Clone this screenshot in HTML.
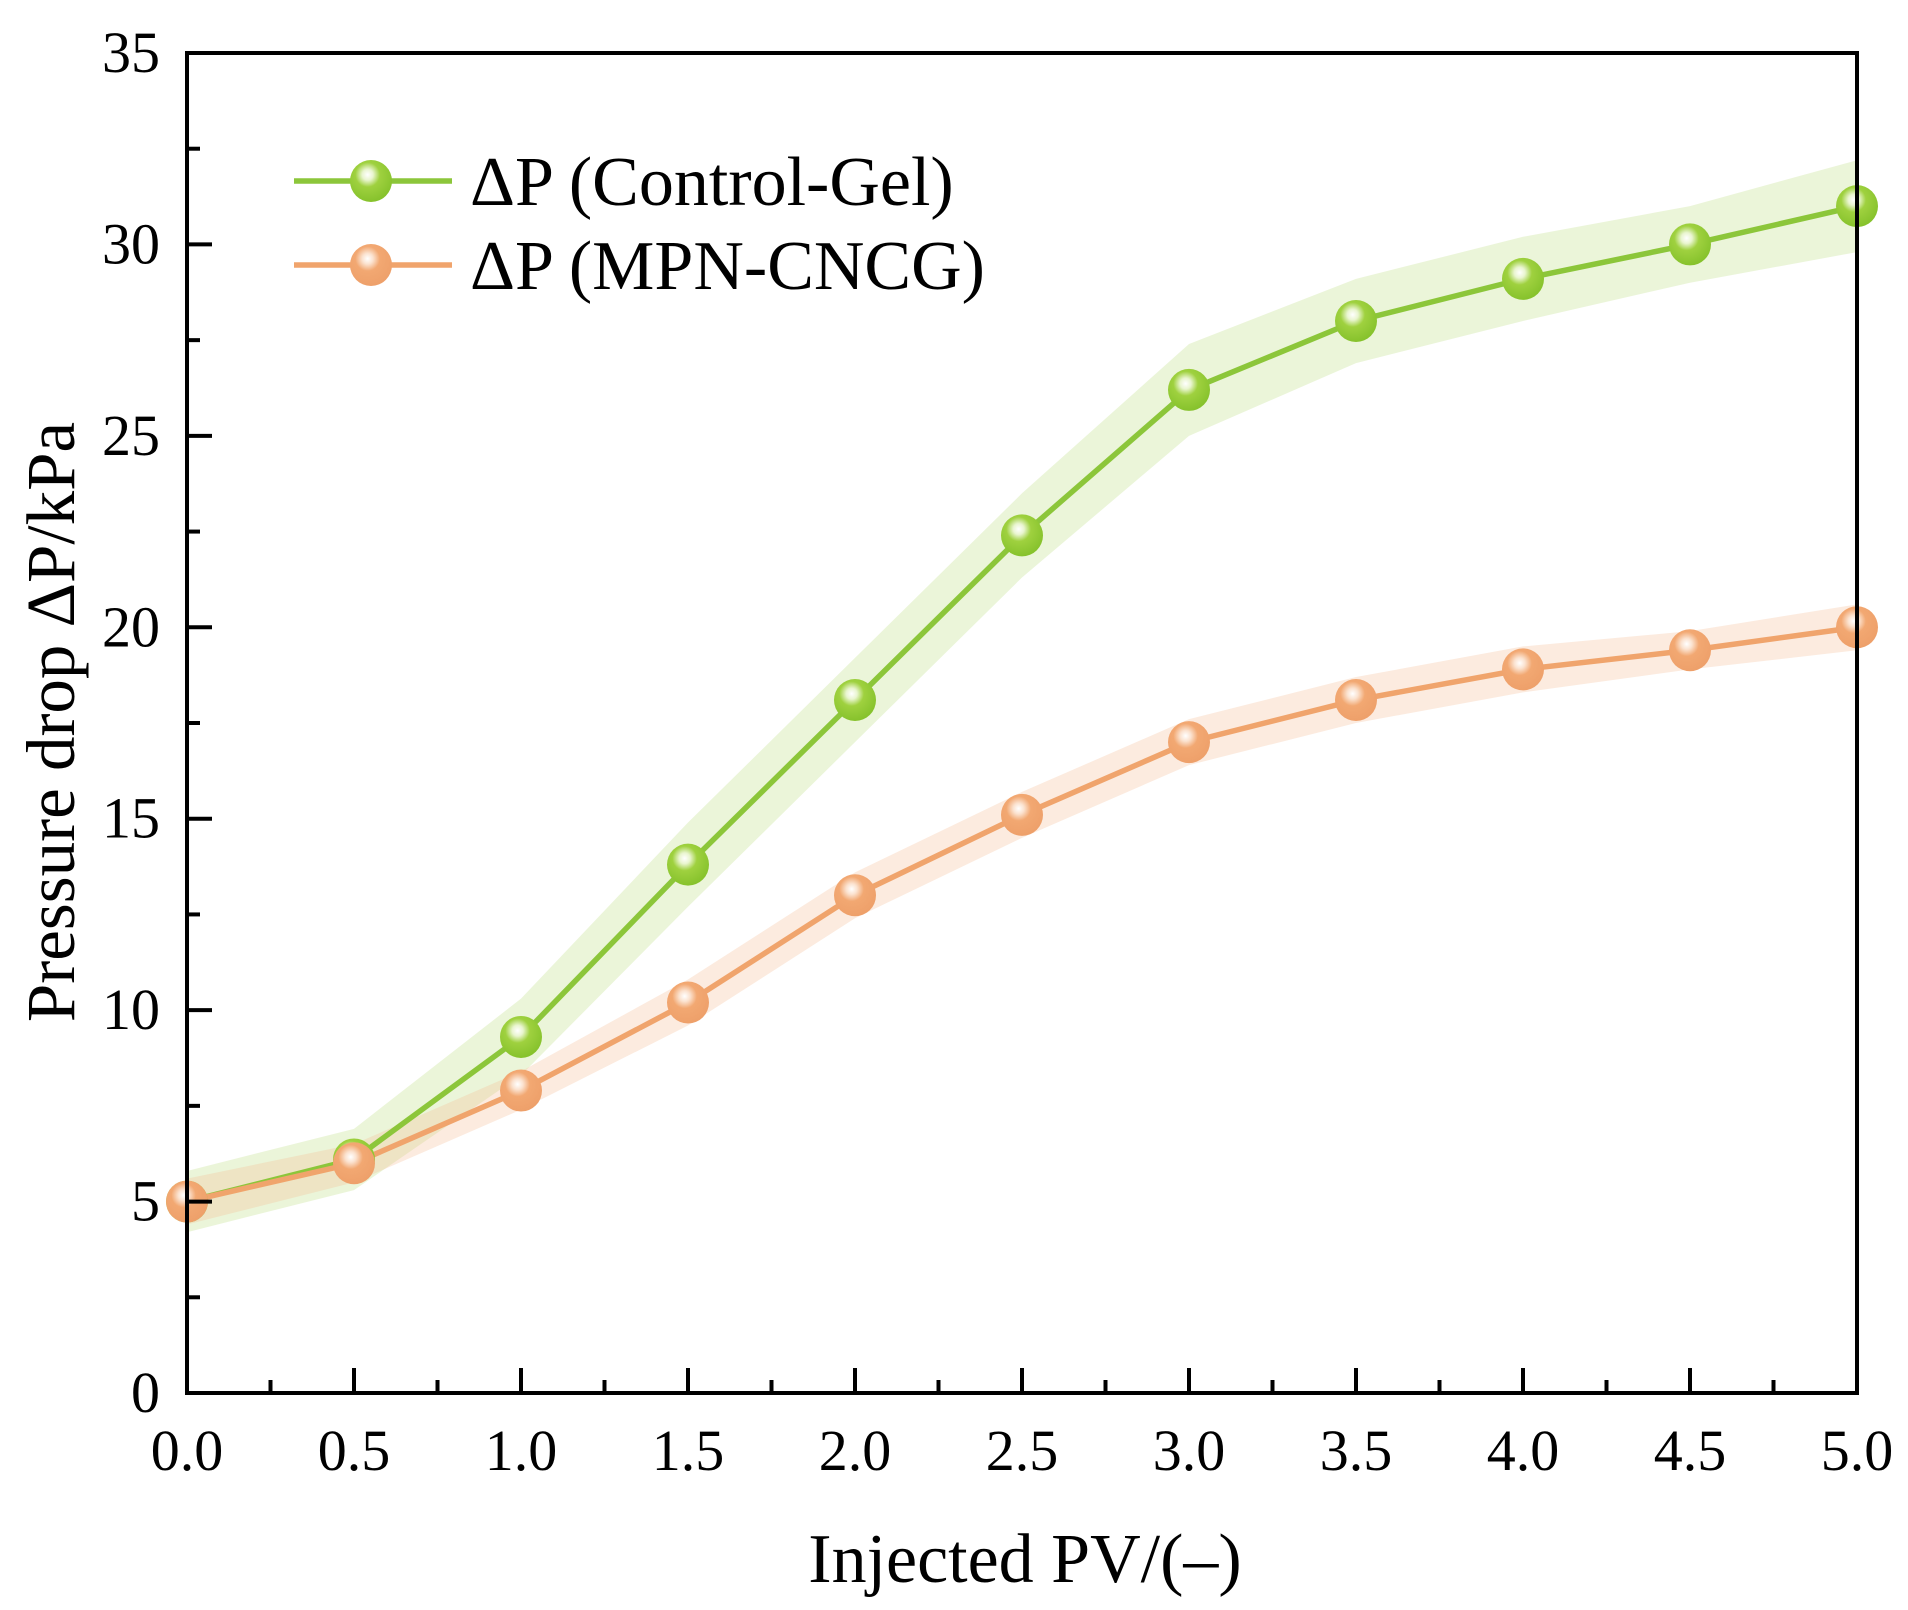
<!DOCTYPE html>
<html><head><meta charset="utf-8"><style>
body{margin:0;background:#fff}
svg{display:block}
text{font-family:"Liberation Serif","Times New Roman",serif;fill:#000}
</style></head><body>
<svg id="chart" width="1908" height="1610" viewBox="0 0 1908 1610">
<defs>
<radialGradient id="gG" cx="0.42" cy="0.35" r="0.65">
<stop offset="0" stop-color="#ffffff"/><stop offset="0.2" stop-color="#e9f5cf"/><stop offset="0.45" stop-color="#9fd13f"/><stop offset="1" stop-color="#86c22c"/></radialGradient>
<radialGradient id="gO" cx="0.42" cy="0.35" r="0.65">
<stop offset="0" stop-color="#ffffff"/><stop offset="0.2" stop-color="#fbe2cf"/><stop offset="0.45" stop-color="#f2a872"/><stop offset="1" stop-color="#eea06a"/></radialGradient>
</defs>
<g id="bands"></g><g id="lines"></g><g id="marks"></g><g id="axes"></g>
</svg>
<script>
const xs=[0,0.5,1.0,1.5,2.0,2.5,3.0,3.5,4.0,4.5,5.0];
const greenVals=[5,6.1,9.3,13.8,18.1,22.4,26.2,28,29.1,30,31];
const greenErr=[0.8,0.8,1.0,1.1,1.1,1.1,1.2,1.1,1.1,1.0,1.2];
const orangeVals=[5,6,7.9,10.2,13,15.1,17,18.1,18.9,19.4,20];
const orangeErr=[0.6,0.5,0.5,0.6,0.6,0.6,0.6,0.6,0.6,0.5,0.6];
const xTicks=["0.0","0.5","1.0","1.5","2.0","2.5","3.0","3.5","4.0","4.5","5.0"];
const yTicks=["0","5","10","15","20","25","30","35"];
const X0=187,X1=1857,Y0=1393,Y1=53;
const sx=v=>X0+(v/5)*(X1-X0);
const sy=v=>Y0-(v/35)*(Y0-Y1);
const NS="http://www.w3.org/2000/svg";
function mk(t,a,p){const e=document.createElementNS(NS,t);for(const k in a)e.setAttribute(k,a[k]);p.appendChild(e);return e;}
const bands=document.getElementById('bands'),lines=document.getElementById('lines'),marks=document.getElementById('marks'),axes=document.getElementById('axes');
function series(vals,err,fill,stroke,grad,name){
 const up=xs.map((x,i)=>sx(x)+","+sy(vals[i]+err[i]));
 const dn=xs.map((x,i)=>sx(x)+","+sy(vals[i]-err[i])).reverse();
 const b=mk('polygon',{points:up.concat(dn).join(' '),fill:fill},bands);
 
 
 const l=mk('polyline',{points:xs.map((x,i)=>sx(x)+","+sy(vals[i])).join(' '),fill:'none',stroke:stroke,'stroke-width':5.5},lines);
 
 
 xs.forEach((x,i)=>{const c=mk('circle',{cx:sx(x),cy:sy(vals[i]),r:21,fill:'url(#'+grad+')'},marks);
 
 });
}
series(greenVals,greenErr,'rgba(205,230,160,0.4)','#8cc63a','gG','control-gel');
series(orangeVals,orangeErr,'rgba(245,190,150,0.3)','#f0a46c','gO','mpn-cncg');
const frame=mk('rect',{x:X0,y:Y1,width:X1-X0,height:Y0-Y1,fill:'none',stroke:'#000','stroke-width':4},axes);


for(let i=0;i<=20;i++){const v=i*0.25,x=sx(v),len=i%2?13:25;
 const t=mk('line',{x1:x,x2:x,y1:Y0,y2:Y0-len,stroke:'#000','stroke-width':4},axes);
 
 }
for(let i=0;i<=14;i++){const v=i*2.5,y=sy(v),len=i%2?13:25;
 const t=mk('line',{x1:X0,x2:X0+len,y1:y,y2:y,stroke:'#000','stroke-width':4},axes);
 
 }
xTicks.forEach(s=>{const t=mk('text',{x:sx(parseFloat(s)),y:1470,'font-size':58,'text-anchor':'middle'},axes);t.textContent=s;
 
 });
yTicks.forEach(s=>{const t=mk('text',{x:160,y:sy(parseFloat(s))+19,'font-size':58,'text-anchor':'end'},axes);t.textContent=s;
 
 });
const xt=mk('text',{x:1025,y:1582,'font-size':70,'text-anchor':'middle'},axes);xt.textContent='Injected PV/(–)';


const yt=mk('text',{x:0,y:0,'font-size':69,'text-anchor':'middle',transform:'translate(74,722) rotate(-90)'},axes);yt.textContent='Pressure drop ΔP/kPa';


[['ΔP (Control-Gel)','#8cc63a','gG',181],['ΔP (MPN-CNCG)','#f0a46c','gO',265]].forEach(d=>{
 const g=mk('g',{},axes);
 
 
 mk('line',{x1:294,x2:452,y1:d[3],y2:d[3],stroke:d[1],'stroke-width':5.5},g);
 mk('circle',{cx:371,cy:d[3],r:21,fill:'url(#'+d[2]+')'},g);
 const t=mk('text',{x:470,y:d[3]+24,'font-size':70},g);t.textContent=d[0];});
</script>
</body></html>
